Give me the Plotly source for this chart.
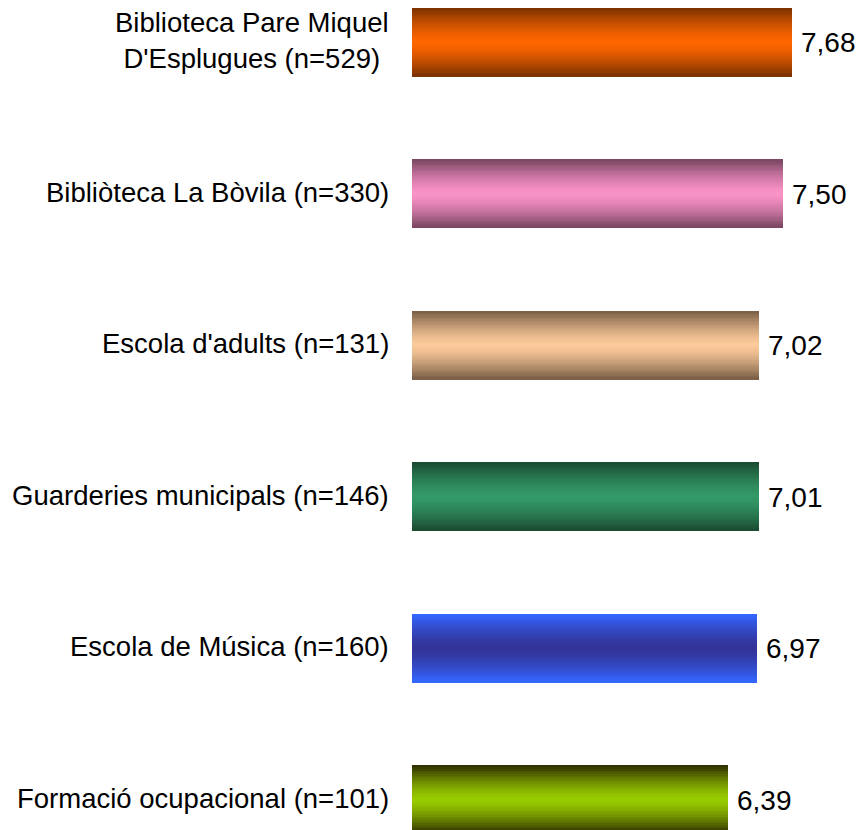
import plotly.graph_objects as go

CATEGORIES = [
    "Biblioteca Pare Miquel<br>D'Esplugues (n=529)",
    "Bibliòteca La Bòvila (n=330)",
    "Escola d'adults (n=131)",
    "Guarderies municipals (n=146)",
    "Escola de Música (n=160)",
    "Formació ocupacional (n=101)",
]
VALUES = [7.68, 7.50, 7.02, 7.01, 6.97, 6.39]

# (edge colour, centre colour) for each bar's vertical gradient
EDGE_COLORS = ["#7f3300", "#7e4864", "#7d6148", "#1b4d33", "#3366ff", "#333300"]
CENTER_COLORS = ["#ff6600", "#fa92c8", "#fcca9a", "#339966", "#333399", "#99cc00"]

N_STRIPS = 40
BAR_W = 0.45
_LABEL_FONT = dict(family="Liberation Sans, Arial, sans-serif", size=27.5, color="black")
_VALUE_FONT = dict(family="Liberation Sans, Arial, sans-serif", size=28, color="black")

W, H = 861, 830
BAR0_Y = 42.5
STEP = 151.5
PX_PER_UNIT = 49.48
LEFT = 412


def _rgb(h):
    h = h.lstrip("#")
    return [int(h[i:i + 2], 16) for i in (0, 2, 4)]


def _mix(a, b, t):
    ca, cb = _rgb(a), _rgb(b)
    return "rgb({},{},{})".format(*[round(x + (y - x) * t) for x, y in zip(ca, cb)])


positions = list(range(len(CATEGORIES)))
strip = BAR_W / N_STRIPS

fig = go.Figure()
for k in range(N_STRIPS):
    # distance of this strip from the bar centre, 0 at centre .. 1 at edge
    d = abs((k + 0.5) / N_STRIPS - 0.5) * 2
    t = min(1.0, d ** 1.4 * 1.05)
    colors = [_mix(c, e, t) for c, e in zip(CENTER_COLORS, EDGE_COLORS)]
    fig.add_trace(go.Bar(
        x=VALUES,
        y=positions,
        orientation="h",
        width=strip * 1.02,
        offset=-BAR_W / 2 + k * strip,
        marker=dict(color=colors, line=dict(width=0)),
        hoverinfo="skip",
        showlegend=False,
    ))

for pos, val, label in zip(positions, VALUES, CATEGORIES):
    fig.add_annotation(
        x=val, y=pos, xref="x", yref="y",
        text=f"{val:.2f}".replace(".", ","),
        showarrow=False, xanchor="left", xshift=7,
        font=_VALUE_FONT,
    )
    fig.add_annotation(
        x=0, y=pos, xref="x", yref="y",
        text=label, align="center",
        showarrow=False, xanchor="right", xshift=-21, yshift=2,
        font=_LABEL_FONT,
    )

fig.update_layout(
    width=W, height=H,
    margin=dict(l=LEFT, r=0, t=0, b=0),
    barmode="overlay",
    bargap=0,
    plot_bgcolor="white", paper_bgcolor="white",
    xaxis=dict(range=[0, (W - LEFT) / PX_PER_UNIT], visible=False, fixedrange=True),
    yaxis=dict(range=[(H - BAR0_Y) / STEP, -BAR0_Y / STEP], visible=False, fixedrange=True),
    font=_LABEL_FONT,
)

# drop the default body margin so the figure fills the window exactly
fig.write_html(
    "out.html",
    config={"displayModeBar": False},
    post_script="document.body.style.margin='0';document.body.style.overflow='hidden';",
)
